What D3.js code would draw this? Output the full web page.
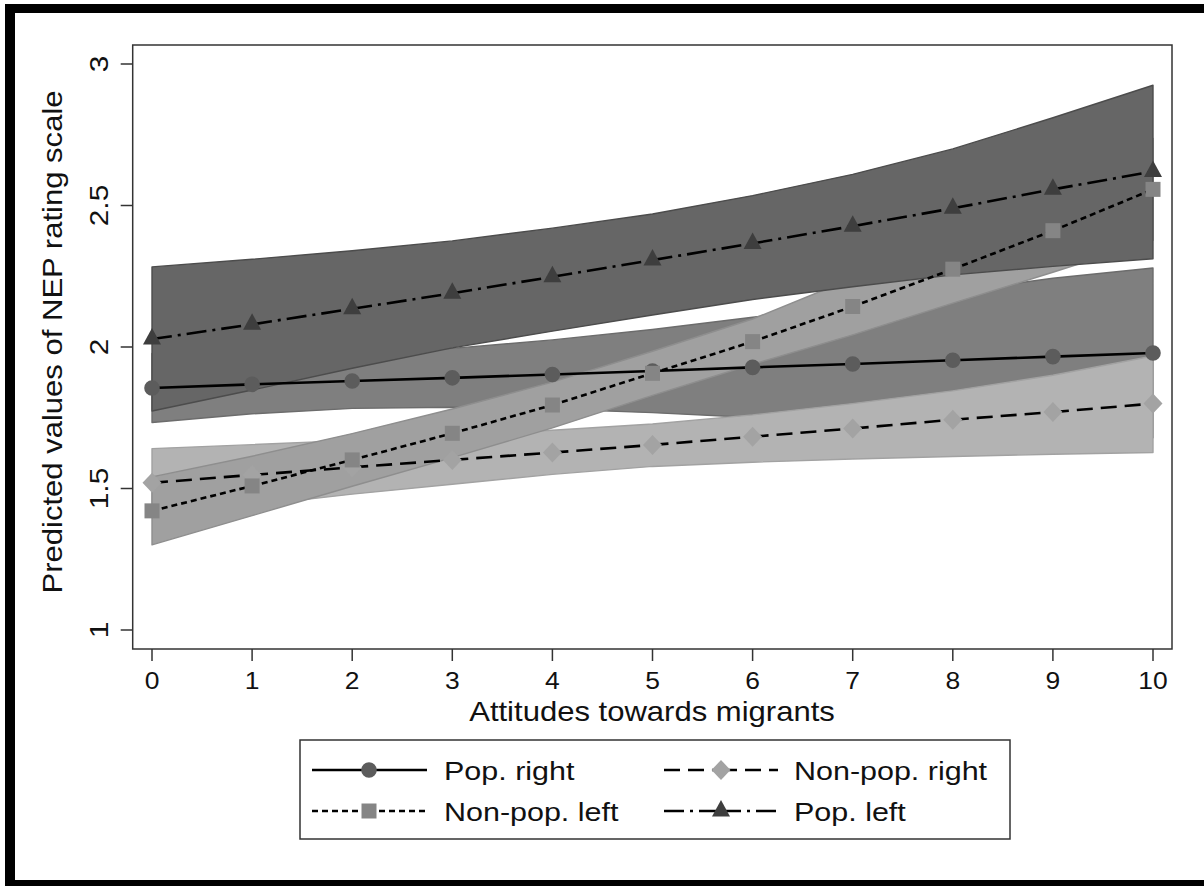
<!DOCTYPE html>
<html><head><meta charset="utf-8">
<script src="https://cdn.jsdelivr.net/npm/d3@7"></script>
<style>body{margin:0;background:#fff}svg{display:block}</style>
</head><body><svg id="c" width="1204" height="886"></svg>
<script>
const xValues = [0,1,2,3,4,5,6,7,8,9,10];
const xTickLabels = ["0","1","2","3","4","5","6","7","8","9","10"];
const yTickValues = [1,1.5,2,2.5,3];
const yTickLabels = ["1","1.5","2","2.5","3"];
const seriesNames = ["Pop. right","Non-pop. right","Non-pop. left","Pop. left"];

const popRight   = [1.855,1.868,1.880,1.891,1.903,1.915,1.928,1.940,1.953,1.966,1.979];
const popRightLo = [1.733,1.764,1.783,1.787,1.781,1.768,1.751,1.731,1.711,1.689,1.679];
const popRightHi = [1.977,1.972,1.977,1.995,2.025,2.062,2.105,2.149,2.195,2.243,2.279];

const nonPopRight   = [1.520,1.548,1.575,1.601,1.627,1.654,1.683,1.712,1.743,1.770,1.800];
const nonPopRightLo = [1.399,1.440,1.480,1.515,1.550,1.578,1.593,1.604,1.613,1.621,1.627];
const nonPopRightHi = [1.641,1.655,1.670,1.689,1.706,1.728,1.760,1.800,1.845,1.900,1.968];

const nonPopLeft   = [1.421,1.509,1.601,1.695,1.795,1.907,2.019,2.143,2.275,2.411,2.557];
const nonPopLeftLo = [1.301,1.404,1.508,1.609,1.714,1.829,1.939,2.043,2.155,2.264,2.377];
const nonPopLeftHi = [1.541,1.614,1.694,1.781,1.876,1.985,2.099,2.243,2.395,2.558,2.737];

const popLeft   = [2.028,2.080,2.135,2.190,2.248,2.307,2.366,2.427,2.490,2.557,2.620];
const popLeftLo = [1.774,1.848,1.925,1.997,2.056,2.113,2.168,2.213,2.255,2.285,2.312];
const popLeftHi = [2.283,2.310,2.340,2.375,2.420,2.470,2.535,2.610,2.700,2.810,2.925];

const series = [
  {name: seriesNames[0], v: popRight,    lo: popRightLo,    hi: popRightHi,
   band: "#7f7f7f", bandStroke: "#6c6c6c", marker: "circle",  mfill: "#5c5c5c", dash: null},
  {name: seriesNames[1], v: nonPopRight, lo: nonPopRightLo, hi: nonPopRightHi,
   band: "#b3b3b3", bandStroke: "#a2a2a2", marker: "diamond", mfill: "#a3a3a3", dash: "16,8"},
  {name: seriesNames[2], v: nonPopLeft,  lo: nonPopLeftLo,  hi: nonPopLeftHi,
   band: "#a0a0a0", bandStroke: "#8e8e8e", marker: "square",  mfill: "#858585", dash: "6,4"},
  {name: seriesNames[3], v: popLeft,     lo: popLeftLo,     hi: popLeftHi,
   band: "#666666", bandStroke: "#4c4c4c", marker: "triangle",mfill: "#3e3e3e", dash: "20,6,3,6"}
];

const S = 1.15; // horizontal stretch of the reference's text
const FONT = "'Liberation Sans', Arial, sans-serif";
const svg = d3.select("#c");

// outer frame
svg.append("rect").attr("x",0).attr("y",0).attr("width",1204).attr("height",886).attr("fill","#fff");
svg.append("rect").attr("x",5).attr("y",4).attr("width",10).attr("height",882).attr("fill","#000");
svg.append("rect").attr("x",5).attr("y",4).attr("width",1199).attr("height",9).attr("fill","#000");
svg.append("rect").attr("x",5).attr("y",880).attr("width",1199).attr("height",6).attr("fill","#000");

const x = d3.scaleLinear().domain([0,10]).range([152,1153]);
const y = d3.scaleLinear().domain([1,3]).range([630,64]);
const plot = {l:132.7, t:45, r:1172, b:649};

// bands
const area = d3.area().x((d,i)=>x(xValues[i])).y0(d=>y(d[0])).y1(d=>y(d[1]));
series.forEach(s=>{
  const data = xValues.map((_,i)=>[s.lo[i], s.hi[i]]);
  svg.append("path").attr("d", area(data)).attr("fill", s.band)
    .attr("stroke", s.bandStroke).attr("stroke-width", 1.4).attr("stroke-linejoin","round");
});

function markerPath(type){
  switch(type){
    case "circle": return d3.arc()({innerRadius:0,outerRadius:7.8,startAngle:0,endAngle:2*Math.PI});
    case "square": return "M-7.5,-7.5H7.5V7.5H-7.5Z";
    case "diamond": return "M0,-10L9.5,0L0,10L-9.5,0Z";
    case "triangle": return "M0,-11L9,5.5L-9,5.5Z";
  }
}

// lines + markers
series.forEach(s=>{
  const g = svg.append("g");
  for(let i=0;i<xValues.length-1;i++){
    g.append("line").attr("x1",x(xValues[i])).attr("y1",y(s.v[i]))
      .attr("x2",x(xValues[i+1])).attr("y2",y(s.v[i+1]))
      .attr("stroke","#000").attr("stroke-width",2.6)
      .attr("stroke-dasharray", s.dash);
  }
  xValues.forEach((xv,i)=>{
    g.append("path").attr("d", markerPath(s.marker))
      .attr("transform",`translate(${x(xv)},${y(s.v[i])})`).attr("fill", s.mfill);
  });
});

// plot frame
svg.append("rect").attr("x",plot.l).attr("y",plot.t).attr("width",plot.r-plot.l).attr("height",plot.b-plot.t)
  .attr("fill","none").attr("stroke","#333").attr("stroke-width",1.5);

// x axis ticks
xValues.forEach((xv,i)=>{
  svg.append("line").attr("x1",x(xv)).attr("x2",x(xv)).attr("y1",plot.b).attr("y2",plot.b+12)
    .attr("stroke","#333").attr("stroke-width",1.5);
  svg.append("text").attr("transform",`translate(${x(xv)},689) scale(${S},1)`)
    .attr("text-anchor","middle").attr("font-family",FONT).attr("font-size",23).attr("fill","#111")
    .text(xTickLabels[i]);
});
// y axis ticks
yTickValues.forEach((yv,i)=>{
  svg.append("line").attr("x1",plot.l-12).attr("x2",plot.l).attr("y1",y(yv)).attr("y2",y(yv))
    .attr("stroke","#333").attr("stroke-width",1.5);
  svg.append("text").attr("transform",`translate(108,${y(yv)}) scale(1,${S}) rotate(-90)`)
    .attr("text-anchor","middle").attr("font-family",FONT).attr("font-size",26).attr("fill","#111")
    .text(yTickLabels[i]);
});

// axis titles
svg.append("text").attr("transform",`translate(652,721) scale(${S},1)`)
  .attr("text-anchor","middle").attr("font-family",FONT).attr("font-size",27).attr("fill","#111")
  .text("Attitudes towards migrants");
svg.append("text").attr("transform",`translate(62,342) scale(1,${S}) rotate(-90)`)
  .attr("text-anchor","middle").attr("font-family",FONT).attr("font-size",27).attr("fill","#111")
  .text("Predicted values of NEP rating scale");

// legend
svg.append("rect").attr("x",300).attr("y",740).attr("width",710).attr("height",99)
  .attr("fill","#fff").attr("stroke","#333").attr("stroke-width",1.5);
const legendPos = [
  {lx1:312, lx2:427, mx:369, tx:444, cy:770},
  {lx1:664, lx2:778, mx:721, tx:794, cy:770},
  {lx1:312, lx2:427, mx:369, tx:444, cy:811},
  {lx1:664, lx2:778, mx:721, tx:794, cy:811}
];
series.forEach((s,i)=>{
  const p = legendPos[i];
  const g = svg.append("g");
  [[p.lx1,p.mx],[p.mx,p.lx2]].forEach(([a,b])=>{
    g.append("line").attr("x1",a).attr("x2",b).attr("y1",p.cy).attr("y2",p.cy)
      .attr("stroke","#000").attr("stroke-width",2.6).attr("stroke-dasharray",s.dash);
  });
  g.append("path").attr("d",markerPath(s.marker)).attr("transform",`translate(${p.mx},${p.cy})`).attr("fill",s.mfill);
  g.append("text").attr("transform",`translate(${p.tx},${p.cy+9.5}) scale(${S},1)`)
    .attr("font-family",FONT).attr("font-size",26.5).attr("fill","#111").text(s.name);
});
</script>
</body></html>
